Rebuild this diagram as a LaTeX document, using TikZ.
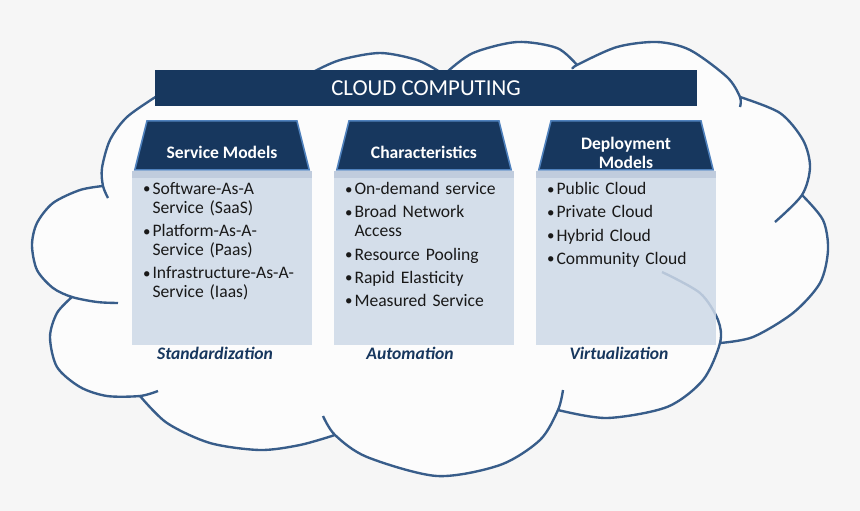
\documentclass[tikz,border=0pt]{standalone}
\usepackage{fontspec}
\setmainfont{Carlito}
\usetikzlibrary{positioning,shapes.geometric}
\definecolor{navy}{HTML}{17375E}
\definecolor{cloudblue}{HTML}{385D8A}
\definecolor{edgeblue}{HTML}{4F81BD}
\definecolor{boxblue}{RGB}{206,217,231}
\definecolor{stripblue}{RGB}{192,204,221}
\definecolor{bggray}{RGB}{246,246,246}
\definecolor{cloudwhite}{RGB}{252,252,252}
\newcommand\bitem[1]{\hangindent=0.19cm\hangafter=1\noindent
  \makebox[0.19cm][l]{\raisebox{0.4pt}{\fontsize{8.5}{8.5}\selectfont\textbullet}}#1\par}

\begin{document}
\begin{tikzpicture}[x=0.02cm,y=-0.02cm,
lobe/.style={draw=cloudblue,line width=1.35pt},
head/.style={trapezium,trapezium angle=76,text width=3cm,text height=0.98cm,text depth=0pt,
  inner sep=0pt,fill=navy,draw=edgeblue,line width=0.9pt},
headtext/.style={inner sep=0pt,text=white,font=\fontsize{10}{10.8}\selectfont\bfseries,align=center},
body/.style={minimum width=3.6cm,minimum height=3.48cm,fill=boxblue,fill opacity=0.85,inner sep=0pt},
items/.style={text width=3.3cm,inner sep=0pt,align=left,text=black!90,font=\fontsize{10}{10.8}\selectfont,
  execute at begin node={\setlength{\baselineskip}{10.8pt}\setlength{\lineskiplimit}{-5pt}\setlength{\parskip}{2.4pt}}},
tag/.style={inner sep=1pt,font=\bfseries\itshape,text=navy}]
\fill[bggray] (0,0) rectangle (860,511);
\useasboundingbox (0,0) rectangle (860,511);
\fill[cloudwhite]
  plot[smooth] coordinates {(157,96) (127,117) (110,140) (102,168) (103,186)}
  -- plot[smooth] coordinates {(103,186) (80,190) (53,203) (37,223) (32,245) (37,270) (53,288) (72,297)}
  -- plot[smooth] coordinates {(72,297) (57,313) (50,337) (57,367) (80,387) (107,396) (140,396)}
  -- plot[smooth] coordinates {(140,396) (167,423) (210,443) (260,450) (300,445) (335,435)}
  -- plot[smooth] coordinates {(335,435) (367,457) (437,476) (500,465) (540,440) (558,410)}
  -- plot[smooth] coordinates {(558,410) (607,418) (667,407) (703,380) (720,343)}
  -- plot[smooth] coordinates {(720,343) (753,337) (793,313) (820,283) (828,250) (823,220) (802,195)}
  -- plot[smooth] coordinates {(802,195) (810,167) (803,140) (780,113) (740,97)}
  -- plot[smooth] coordinates {(740,97) (727,77) (690,50) (657,42) (617,47) (577,65)}
  -- plot[smooth] coordinates {(577,65) (557,48) (517,42) (473,53) (447,72)}
  -- plot[smooth] coordinates {(440,72) (417,60) (380,53) (340,60) (313,72)}
  -- cycle;
\draw[lobe]
  plot[smooth] coordinates {(157,96) (127,117) (110,140) (102,168) (103,186) (108,198)}
  plot[smooth] coordinates {(103,186) (80,190) (53,203) (37,223) (32,245) (37,270) (53,288) (72,297) (97,302) (118,303)}
  plot[smooth] coordinates {(72,297) (57,313) (50,337) (57,367) (80,387) (107,396) (140,396) (158,391)}
  plot[smooth] coordinates {(140,396) (167,423) (210,443) (260,450) (300,445) (335,435)}
  plot[smooth] coordinates {(323,416) (335,435) (367,457) (437,476) (500,465) (540,440) (558,410) (563,390)}
  plot[smooth] coordinates {(558,410) (607,418) (667,407) (703,380) (720,343) (718,320) (700,293) (662,272)}
  plot[smooth] coordinates {(720,343) (753,337) (793,313) (820,283) (828,250) (823,220) (802,195)}
  plot[smooth] coordinates {(775,222) (802,195) (810,167) (803,140) (780,113) (740,97)}
  plot[smooth] coordinates {(740,107) (740,97) (727,77) (690,50) (657,42) (617,47) (577,65) (573,69)}
  plot[smooth] coordinates {(577,65) (557,48) (517,42) (473,53) (447,72)}
  plot[smooth] coordinates {(440,72) (417,60) (380,53) (340,60) (313,72)};

\node[fill=navy,text=white,minimum width=10.84cm,minimum height=0.72cm,font=\fontsize{13}{15}\selectfont]
  (title) at (426,88) {CLOUD COMPUTING};

\node[body] (sm) at (222,258) {};
\node[body] (ch) at (424,258) {};
\node[body] (dm) at (626,258) {};
\fill[stripblue] (sm.north west) rectangle ([yshift=-0.14cm]sm.north east);
\fill[stripblue] (ch.north west) rectangle ([yshift=-0.14cm]ch.north east);
\fill[stripblue] (dm.north west) rectangle ([yshift=-0.14cm]dm.north east);
\node[head,above=0pt of sm] (smh) {};
\node[head,above=0pt of ch] (chh) {};
\node[head,above=0pt of dm] (dmh) {};
\node[headtext] (smht) at ([yshift=-0.15cm]smh.center) {Service Models};
\node[headtext] (chht) at ([yshift=-0.15cm]chh.center) {Characteristics};
\node[headtext] (dmht) at ([yshift=-0.15cm]dmh.center) {Deployment\\Models};

\node[items,below right=0.23cm and 0.22cm of sm.north west] (smi)
  {\bitem{Software-As-A\newline Service (SaaS)}\bitem{Platform-As-A-\newline Service (Paas)}\bitem{Infrastructure-As-A-\newline Service (Iaas)}};
\node[items,below right=0.23cm and 0.22cm of ch.north west] (chi)
  {\bitem{On-demand service}\bitem{Broad Network\newline Access}\bitem{Resource Pooling}\bitem{Rapid Elasticity}\bitem{Measured Service}};
\node[items,below right=0.23cm and 0.22cm of dm.north west] (dmi)
  {\bitem{Public Cloud}\bitem{Private Cloud}\bitem{Hybrid Cloud}\bitem{Community Cloud}};

\node[tag,below=0pt of sm,xshift=-0.14cm] (smt) {Standardization};
\node[tag,below=0pt of ch,xshift=-0.28cm] (cht) {Automation};
\node[tag,below=0pt of dm,xshift=-0.14cm] (dmt) {Virtualization};
\end{tikzpicture}
\end{document}
